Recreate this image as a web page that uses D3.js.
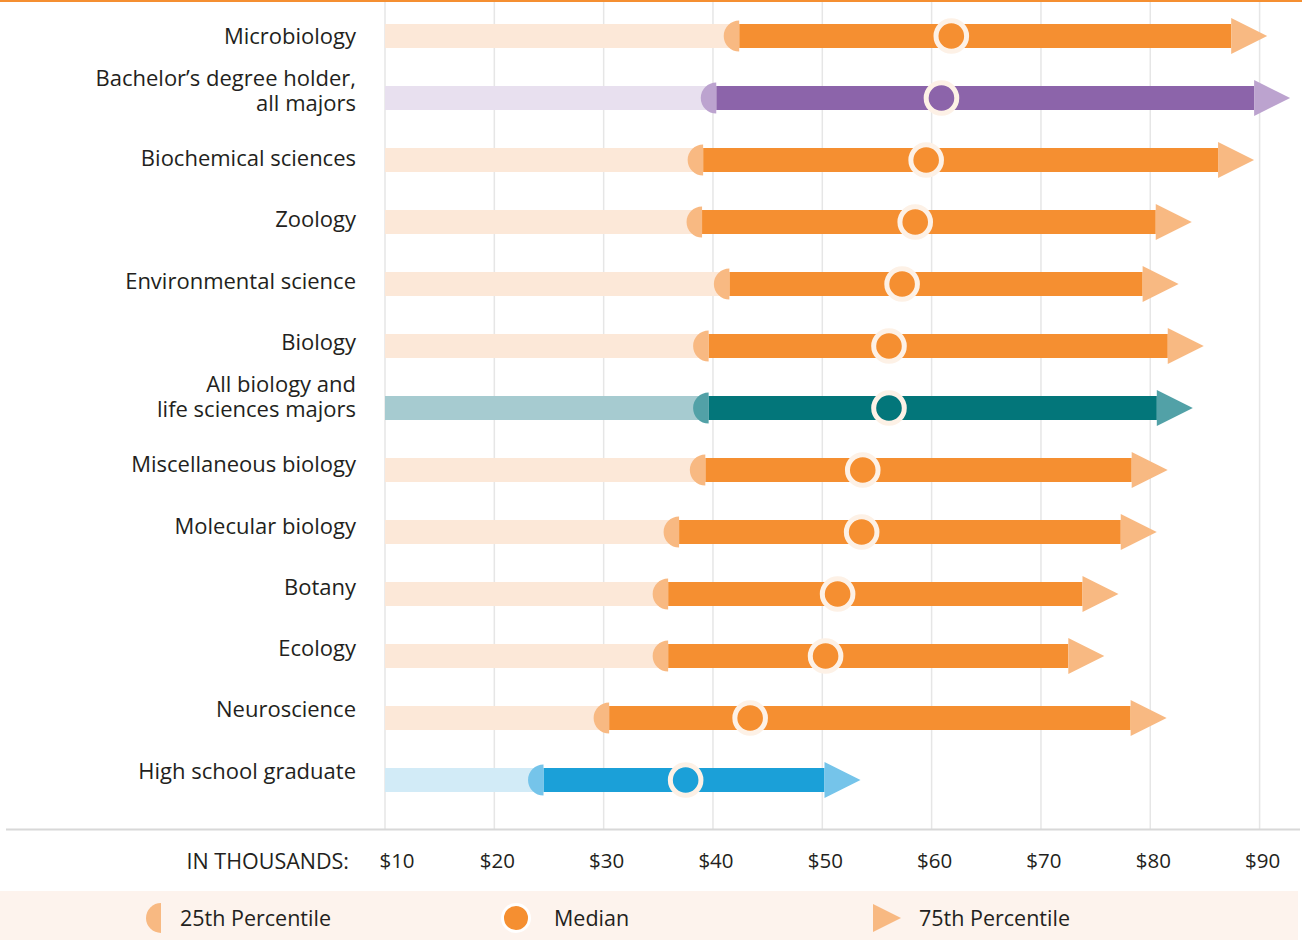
<!DOCTYPE html>
<html lang="en">
<head>
    <meta charset="utf-8">
    <title>Biology majors earnings</title>
    <style type="text/css">
        body { margin: 0; background: #fff; }
        svg text { font-family: "Open Sans", "Noto Sans", sans-serif; fill: #231f20; }
        .row-label { font-size: 22px; }
        .tick-label { font-size: 20.5px; }
        .axis-title { font-size: 21.5px; }
        .legend-label { font-size: 21.5px; }
    </style>
</head>
<body>
<svg class="chart" width="1302" height="940"></svg>

<script src="https://d3js.org/d3.v7.min.js"></script>
<script>
    // data, in thousands of dollars
    var categories = [
        "Microbiology",
        "Bachelor’s degree holder,\nall majors",
        "Biochemical sciences",
        "Zoology",
        "Environmental science",
        "Biology",
        "All biology and\nlife sciences majors",
        "Miscellaneous biology",
        "Molecular biology",
        "Botany",
        "Ecology",
        "Neuroscience",
        "High school graduate"
    ];
    var p25    = [42.4, 40.3, 39.1, 39.0, 41.5, 39.6, 39.6, 39.3, 36.9, 35.9, 35.9, 30.5, 24.5];
    var median = [61.8, 60.9, 59.5, 58.5, 57.3, 56.1, 56.1, 53.7, 53.6, 51.4, 50.3, 43.4, 37.5];
    var p75    = [87.4, 89.5, 86.2, 80.5, 79.3, 81.6, 80.6, 78.3, 77.3, 73.8, 72.5, 78.2, 50.2];
    var groups = ["major", "all", "major", "major", "major", "major", "biology",
                  "major", "major", "major", "major", "major", "highschool"];

    var tickValues = [10, 20, 30, 40, 50, 60, 70, 80, 90];
    var tickLabels = ["$10", "$20", "$30", "$40", "$50", "$60", "$70", "$80", "$90"];
    var axisTitle = "IN THOUSANDS:";
    var legendLabels = ["25th Percentile", "Median", "75th Percentile"];

    // colours: pale bar, mid (half circle / arrow), dark bar
    var palette = {
        major:      {pale: "#fce8d8", mid: "#f8b982", dark: "#f58f31"},
        all:        {pale: "#e8e0ef", mid: "#bca3cf", dark: "#8c64aa"},
        biology:    {pale: "#a6cbd0", mid: "#52a1a7", dark: "#03767a"},
        highschool: {pale: "#d2ebf7", mid: "#75c4ea", dark: "#1ba0d8"}
    };
    var ringColor = "#fdf1e6";

    var svg = d3.select('.chart'),
        width = +svg.attr('width'),
        axisY = 829.5,
        barH = 24,
        capR = 15.5,
        arrowW = 36, arrowH = 36;

    var x = d3.scaleLinear().domain([10, 90]).range([385, 1259.6]);
    var yBar = d3.scalePoint().domain(categories).range([36, 780]);
    var yLabel = d3.scalePoint().domain(categories).range([36, 771]);

    var rows = categories.map(function(c, i) {
        return {name: c, p25: p25[i], median: median[i], p75: p75[i], col: palette[groups[i]]};
    });

    // top rule
    svg.append('rect')
        .attr('x', 0).attr('y', 0)
        .attr('width', width).attr('height', 2)
        .attr('fill', '#f58f31');

    // gridlines
    svg.append('g').selectAll('line')
        .data(tickValues)
        .join('line')
        .attr('x1', function(d) { return x(d); })
        .attr('x2', function(d) { return x(d); })
        .attr('y1', 2)
        .attr('y2', axisY)
        .attr('stroke', '#e6e6e6')
        .attr('stroke-width', 1.5);

    // base line
    svg.append('line')
        .attr('x1', 6).attr('x2', 1300)
        .attr('y1', axisY).attr('y2', axisY)
        .attr('stroke', '#d8d8d8')
        .attr('stroke-width', 2);

    // tick labels
    svg.append('g').selectAll('text')
        .data(tickValues)
        .join('text')
        .attr('class', 'tick-label')
        .attr('x', function(d) { return x(d) + (d === 10 ? 12 : 3); })
        .attr('y', 861)
        .attr('dy', '0.35em')
        .attr('text-anchor', 'middle')
        .text(function(d, i) { return tickLabels[i]; });

    svg.append('text')
        .attr('class', 'axis-title')
        .attr('x', 349)
        .attr('y', 861)
        .attr('dy', '0.35em')
        .attr('text-anchor', 'end')
        .text(axisTitle);

    // row labels
    var labels = svg.append('g').selectAll('text')
        .data(rows)
        .join('text')
        .attr('class', 'row-label')
        .attr('text-anchor', 'end')
        .attr('y', function(d) { return yLabel(d.name); });

    labels.each(function(d) {
        var lines = d.name.split('\n'),
            t = d3.select(this);
        lines.forEach(function(line, j) {
            var off = lines.length > 1 ? (j === 0 ? -19 : 6) : 0;
            t.append('tspan')
                .attr('x', 356)
                .attr('y', yLabel(d.name) + off)
                .attr('dy', '0.35em')
                .text(line);
        });
    });

    // rows
    var row = svg.append('g').selectAll('g')
        .data(rows)
        .join('g')
        .attr('transform', function(d) { return 'translate(0,' + yBar(d.name) + ')'; });

    row.append('rect')      // pale bar up to 25th percentile
        .attr('x', x(10))
        .attr('y', -barH / 2)
        .attr('width', function(d) { return x(d.p25) - x(10); })
        .attr('height', barH)
        .attr('fill', function(d) { return d.col.pale; });

    row.append('rect')      // 25th to 75th
        .attr('x', function(d) { return x(d.p25); })
        .attr('y', -barH / 2)
        .attr('width', function(d) { return x(d.p75) - x(d.p25); })
        .attr('height', barH)
        .attr('fill', function(d) { return d.col.dark; });

    row.append('path')      // half circle marker
        .attr('d', function(d) {
            var cx = x(d.p25);
            return 'M' + cx + ',' + (-capR) + 'A' + capR + ',' + capR + ' 0 0 0 ' + cx + ',' + capR + 'Z';
        })
        .attr('fill', function(d) { return d.col.mid; });

    row.append('path')      // arrow head
        .attr('d', function(d) {
            var x0 = x(d.p75);
            return 'M' + x0 + ',' + (-arrowH / 2) + 'L' + (x0 + arrowW) + ',0L' + x0 + ',' + (arrowH / 2) + 'Z';
        })
        .attr('fill', function(d) { return d.col.mid; });

    row.append('circle')    // median
        .attr('cx', function(d) { return x(d.median); })
        .attr('cy', 0)
        .attr('r', 15.3)
        .attr('fill', function(d) { return d.col.dark; })
        .attr('stroke', ringColor)
        .attr('stroke-width', 5);

    // legend
    var legend = svg.append('g');
    legend.append('rect')
        .attr('x', 0).attr('y', 891)
        .attr('width', 1298).attr('height', 49)
        .attr('fill', '#fdf3ed');

    var ly = 918, lc = palette.major;
    legend.append('path')
        .attr('d', 'M161,' + (ly - 15) + 'A15,15 0 0 0 161,' + (ly + 15) + 'Z')
        .attr('fill', lc.mid);
    legend.append('circle')
        .attr('cx', 516).attr('cy', ly).attr('r', 13.5)
        .attr('fill', lc.dark)
        .attr('stroke', '#fff')
        .attr('stroke-width', 3);
    legend.append('path')
        .attr('d', 'M873,' + (ly - 14) + 'L901,' + ly + 'L873,' + (ly + 14) + 'Z')
        .attr('fill', lc.mid);

    legend.selectAll('text')
        .data(legendLabels)
        .join('text')
        .attr('class', 'legend-label')
        .attr('x', function(d, i) { return [180, 554, 919][i]; })
        .attr('y', ly)
        .attr('dy', '0.35em')
        .text(function(d) { return d; });
</script>
</body>
</html>
